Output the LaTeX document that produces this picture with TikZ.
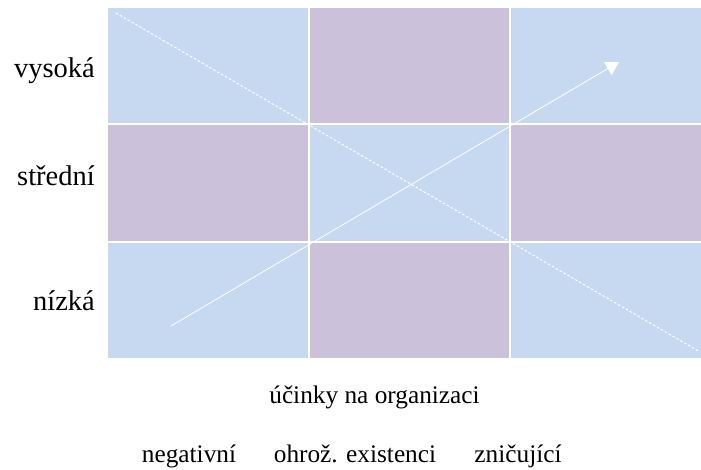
\documentclass[tikz,border=0pt]{standalone}
\usepackage{fontspec}
\setmainfont{Liberation Serif}
\usetikzlibrary{arrows.meta}
\definecolor{cellblue}{RGB}{198,217,241}
\definecolor{cellpurple}{RGB}{204,193,218}
\begin{document}
\begin{tikzpicture}[x=1pt,y=-1pt,
lvl/.style={anchor=base east,inner sep=0pt,font=\fontsize{28.5}{30}\selectfont},
eff/.style={anchor=base,inner sep=0pt,font=\fontsize{25.3}{27}\selectfont},
grid/.style={white,line width=2pt},
trend/.style={-{Triangle[angle=60:15pt]},white,line width=.8pt},
diag/.style={white,line width=1pt,dash pattern=on 2.5pt off 2pt}]
\useasboundingbox(0,0)rectangle(701,469);
% cells
\fill[cellblue](108,8)rectangle(309,124);\fill[cellpurple](309,8)rectangle(510,124);\fill[cellblue](510,8)rectangle(701,124);
\fill[cellpurple](108,124)rectangle(309,242);\fill[cellblue](309,124)rectangle(510,242);\fill[cellpurple](510,124)rectangle(701,242);
\fill[cellblue](108,242)rectangle(309,358);\fill[cellpurple](309,242)rectangle(510,358);\fill[cellblue](510,242)rectangle(701,358);
\draw[grid](309,8)--(309,358);\draw[grid](510,8)--(510,358);
\draw[grid](108,124)--(701,124);\draw[grid](108,242)--(701,242);
% lines
\coordinate(dtop)at(116,13);\coordinate(dbot)at(700,352);
\coordinate(lo)at(171,326);\coordinate(hi)at(619,62);
\draw[diag](dtop)--(dbot);
\draw[trend](lo)--(hi);
% labels
\node[lvl](high)at(95,77){vysoká};
\node[lvl](mid)at(95,185){střední};
\node[lvl](low)at(95,310){nízká};
\node[eff](axis)at(374.5,403){účinky na organizaci};
\node[eff](neg)at(189,462){negativní};
\node[eff](thr)at(355,462){ohrož. existenci};
\node[eff](des)at(518,462){zničující};
\end{tikzpicture}
\end{document}
